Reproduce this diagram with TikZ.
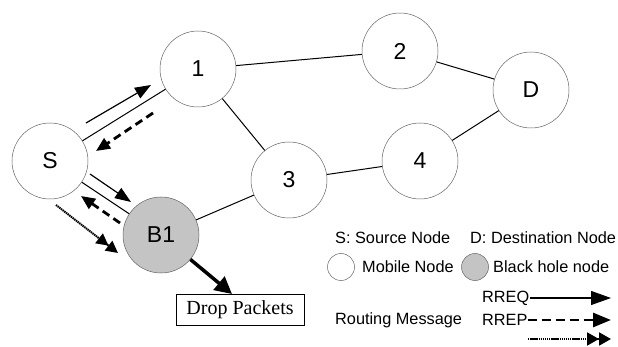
\documentclass[tikz,border=0pt]{standalone}
\usepackage{fontspec}
\setmainfont{Liberation Sans}
\newfontfamily\boxfont{Liberation Serif}
\usetikzlibrary{arrows.meta}
\definecolor{bhgray}{RGB}{196,196,196}
\definecolor{rimgray}{RGB}{100,100,100}
\begin{document}
\begin{tikzpicture}[x=1pt,y=-1pt,
  mnode/.style={circle,draw=rimgray,line width=0.5pt,fill=white,minimum size=76pt,inner sep=0pt,font=\fontsize{23}{26}\selectfont},
  bhnode/.style={mnode,fill=bhgray},
  link/.style={line width=1pt},
  req/.style={line width=1.2pt,-{Triangle[length=16pt,width=12pt]}},
  rep/.style={line width=2.8pt,dash pattern=on 8pt off 5pt,-{Triangle[length=14pt,width=12pt]}},
  dat/.style={line width=2pt,dash pattern=on 1.4pt off 0.7pt,-{Triangle[length=12pt,width=12pt]Triangle[length=12pt,width=12pt]}},
  drop/.style={line width=3.5pt,-{Triangle[length=17pt,width=17pt]}},
  lgd/.style={anchor=west,inner sep=0pt,font=\fontsize{16.3}{19}\selectfont},
  lreq/.style={line width=1.2pt,-{Triangle[length=20pt,width=14pt]}},
  lrep/.style={line width=2.8pt,dash pattern=on 9pt off 5pt,-{Triangle[length=18pt,width=14pt]}},
  ldat/.style={line width=2pt,dash pattern=on 1.4pt off 0.7pt,-{Triangle[length=12pt,width=13pt]Triangle[length=12pt,width=13pt]}},
  smallc/.style={circle,draw=rimgray,line width=0.5pt,minimum size=27pt,inner sep=0pt}
]
\useasboundingbox (0,0) rectangle (618,347);

% nodes
\node[mnode] (S) at (50,161) {S};
\node[mnode] (n1) at (198,69) {1};
\node[mnode] (n2) at (400,51) {2};
\node[mnode] (D) at (531,90) {D};
\node[mnode] (n3) at (289,180) {3};
\node[mnode] (n4) at (420,161) {4};
\node[bhnode] (B1) at (161,235) {B1};

% links
\draw[link] (S) -- (n1);
\draw[link] (n1) -- (n2);
\draw[link] (n2) -- (D);
\draw[link] (D) -- (n4);
\draw[link] (n4) -- (n3);
\draw[link] (n3) -- (n1);
\draw[link] (n3) -- (B1);
\draw[link] (S) -- (B1);

% routing messages
\coordinate (a1s) at (86,123);  \coordinate (a1e) at (151,85);
\coordinate (a2s) at (153,113); \coordinate (a2e) at (96,151);
\coordinate (b1s) at (90,174);  \coordinate (b1e) at (131,202);
\coordinate (b2s) at (120,223); \coordinate (b2e) at (81,196);
\coordinate (c1s) at (56,205);  \coordinate (c1e) at (118,253);
\draw[req] (a1s) -- (a1e);
\draw[rep] (a2s) -- (a2e);
\draw[req] (b1s) -- (b1e);
\draw[rep] (b2s) -- (b2e);
\draw[dat] (c1s) -- (c1e);

% drop packets
\node[draw,line width=0.9pt,minimum width=128pt,minimum height=31pt,inner sep=0pt,font=\boxfont\fontsize{20}{23}\selectfont] (box) at (240,309.5) {Drop Packets};
\coordinate (droptip) at (232,294);
\draw[drop] (B1) -- (droptip);

% legend
\node[lgd] (lS) at (335,238) {S: Source Node};
\node[lgd] (lD) at (470,238) {D: Destination Node};
\node[smallc] (cM) at (341,267) {};
\node[lgd] (lM) at (362,267) {Mobile Node};
\node[smallc,fill=bhgray] (cB) at (475,267) {};
\node[lgd] (lB) at (493,267) {Black hole node};
\node[lgd] (lreq) at (482,298) {RREQ};
\node[lgd] (lrep) at (482,320) {RREP};
\node[lgd] (lrm) at (335,320) {Routing Message};
\coordinate (reqe) at (611,298);
\coordinate (repe) at (611,320);
\coordinate (dats) at (528,339);
\coordinate (date) at (611,339);
\draw[lreq] (lreq.east) -- (reqe);
\draw[lrep] (lrep.east) -- (repe);
\draw[ldat] (dats) -- (date);
\end{tikzpicture}
\end{document}
